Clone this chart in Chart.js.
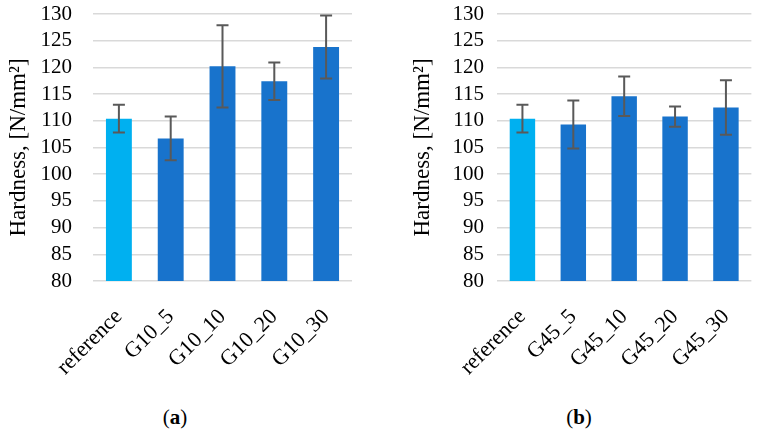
<!DOCTYPE html>
<html>
<head>
<meta charset="utf-8">
<script src="https://cdn.jsdelivr.net/npm/chart.js@4.4.1/dist/chart.umd.min.js"></script>
<style>
  html, body { margin: 0; padding: 0; background: #ffffff; }
  body { width: 760px; height: 434px; position: relative; overflow: hidden; font-family: 'Liberation Serif', 'Times New Roman', serif; }
  .panel { position: absolute; top: 0; width: 380px; height: 400px; }
  .cap { position: absolute; top: 405px; font-size: 21px; color: #000; transform: translateX(-50%); white-space: nowrap; }
</style>
</head>
<body>
<div class="panel" style="left:0"><canvas id="chartA" width="380" height="400"></canvas></div>
<div class="panel" style="left:380px"><canvas id="chartB" width="380" height="400"></canvas></div>
<div class="cap" style="left:175px">(<b>a</b>)</div>
<div class="cap" style="left:579px">(<b>b</b>)</div>
<script>
// ---- data ----
const categoriesA = ['reference', 'G10_5', 'G10_10', 'G10_20', 'G10_30'];
const hardnessA   = [110.4, 106.7, 120.2, 117.4, 123.8];
const errorA      = [2.6, 4.1, 7.7, 3.5, 5.9];

const categoriesB = ['reference', 'G45_5', 'G45_10', 'G45_20', 'G45_30'];
const hardnessB   = [110.4, 109.3, 114.6, 110.8, 112.5];
const errorB      = [2.6, 4.5, 3.7, 1.9, 5.1];

const yMin = 80, yMax = 130, yStep = 5;
const yTitle = 'Hardness, [N/mm²]';

// ---- styling ----
const lightBlue = '#00B0F0';
const darkBlue = '#1873CC';
const FONT = "'Liberation Serif', 'Times New Roman', serif";

const errorBarPlugin = {
  id: 'errorBars',
  afterDatasetsDraw(chart) {
    const ctx = chart.ctx;
    const y = chart.scales.y;
    const ds = chart.data.datasets[0];
    const meta = chart.getDatasetMeta(0);
    ctx.save();
    ctx.strokeStyle = '#595959';
    ctx.lineWidth = 2;
    meta.data.forEach((bar, i) => {
      const v = ds.data[i], e = ds.errors[i];
      const yt = y.getPixelForValue(v + e);
      const yb = y.getPixelForValue(v - e);
      const x = bar.x;
      ctx.beginPath();
      ctx.moveTo(x, yt); ctx.lineTo(x, yb);
      ctx.moveTo(x - 6, yt); ctx.lineTo(x + 6, yt);
      ctx.moveTo(x - 6, yb); ctx.lineTo(x + 6, yb);
      ctx.stroke();
    });
    ctx.restore();
  }
};

function makeChart(id, labels, values, errors, padLeft, tickGap) {
  const colors = labels.map((l, i) => i === 0 ? lightBlue : darkBlue);
  return new Chart(document.getElementById(id), {
    type: 'bar',
    data: {
      labels: labels,
      datasets: [{
        data: values,
        errors: errors,
        backgroundColor: colors,
        borderWidth: 0,
        categoryPercentage: 1.0,
        barPercentage: 0.5
      }]
    },
    options: {
      responsive: false,
      animation: false,
      devicePixelRatio: 1,
      layout: { padding: { left: padLeft, right: 380 - (padLeft + 93 + 259), top: 14, bottom: 0 } },
      plugins: { legend: { display: false }, tooltip: { enabled: false } },
      scales: {
        x: {
          grid: { display: false },
          border: { display: false },
          ticks: {
            autoSkip: false,
            minRotation: 45,
            maxRotation: 45,
            padding: 15,
            color: '#000',
            font: { family: FONT, size: 22 }
          },
          afterFit(scale) { scale.height = 119; }
        },
        y: {
          min: yMin,
          max: yMax,
          grid: { color: '#D9D9D9', lineWidth: 1.5, drawTicks: true, tickLength: tickGap, tickColor: 'rgba(0,0,0,0)' },
          border: { display: false },
          ticks: {
            stepSize: yStep,
            autoSkip: false,
            padding: 0,
            color: '#000',
            font: { family: FONT, size: 21 }
          },
          title: {
            display: true,
            text: yTitle,
            color: '#000',
            font: { family: FONT, size: 23 },
            padding: { top: 5, bottom: 0 }
          },
          afterFit(scale) { scale.width = 93; }
        }
      }
    },
    plugins: [errorBarPlugin]
  });
}

makeChart('chartA', categoriesA, hardnessA, errorA, 0, 21);
makeChart('chartB', categoriesB, hardnessB, errorB, 24, 13);
</script>
</body>
</html>
